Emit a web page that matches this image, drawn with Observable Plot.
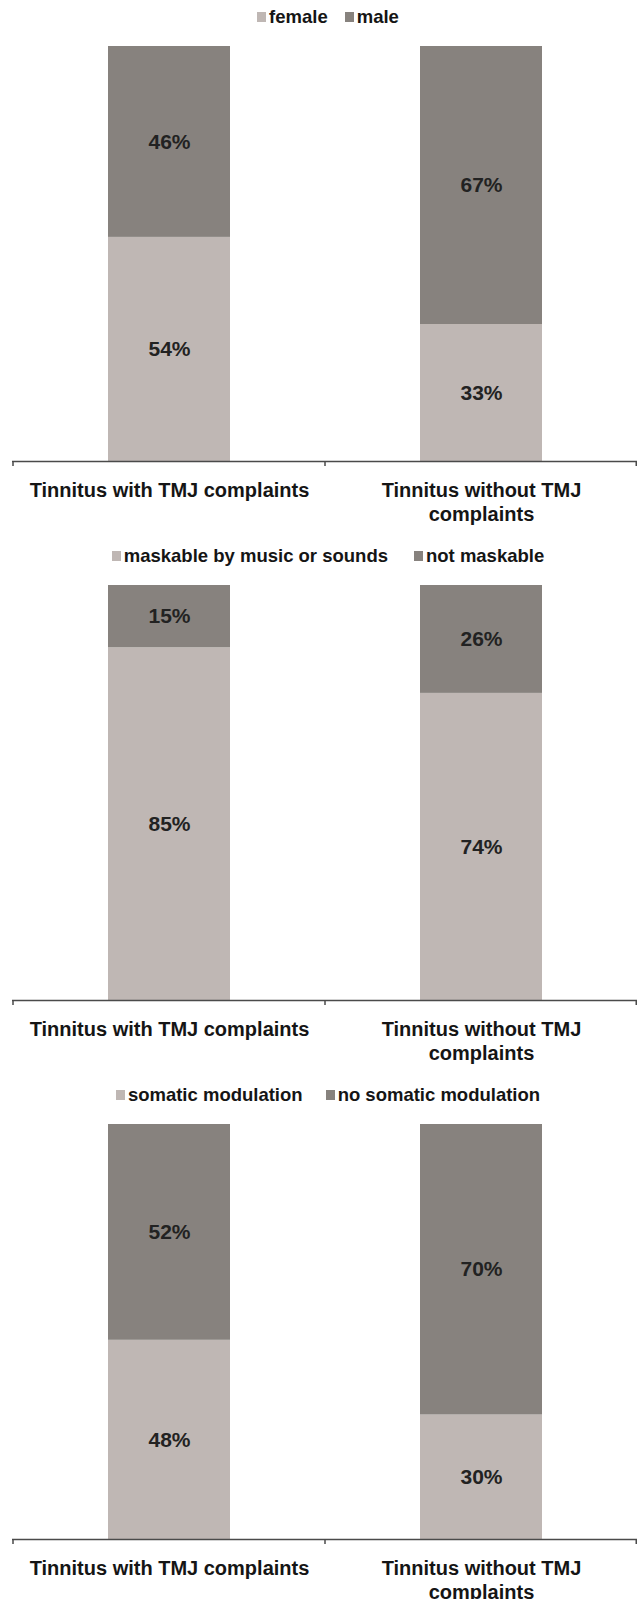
<!DOCTYPE html>
<html>
<head>
<meta charset="utf-8">
<script src="https://cdn.jsdelivr.net/npm/d3@7"></script>
<script src="https://cdn.jsdelivr.net/npm/@observablehq/plot@0.6"></script>
<style>
  html, body { margin: 0; padding: 0; background: #fff; }
  body { width: 637px; font-family: "Liberation Sans", Arial, sans-serif; }
  .panel { width: 637px; height: 539px; }
  .legend { height: 33px; display: flex; justify-content: center; align-items: center; padding-left: 19px; box-sizing: border-box; font-size: 18.5px; font-weight: bold; color: #151515; }
  .legend .item { display: flex; align-items: center; }
  .legend .sw { width: 9px; height: 10px; margin-right: 3px; display: inline-block; }
  svg { display: block; }
</style>
</head>
<body>
<div id="root"></div>
<script>
const groups = ["Tinnitus with TMJ complaints", "Tinnitus without TMJ complaints"];
const groupLabels = ["Tinnitus with TMJ complaints", "Tinnitus without TMJ\ncomplaints"];
const colors = ["#bfb7b4", "#87827e"];

const sexSeries = ["female", "male"];
const sexValues = [[54, 46], [33, 67]];

const maskSeries = ["maskable by music or sounds", "not maskable"];
const maskValues = [[85, 15], [74, 26]];

const somaSeries = ["somatic modulation", "no somatic modulation"];
const somaValues = [[48, 52], [30, 70]];

const panels = [
  {series: sexSeries, values: sexValues, gap: 17},
  {series: maskSeries, values: maskValues, gap: 26},
  {series: somaSeries, values: somaValues, gap: 23}
];

function bandTicks(cats) {
  return (index, scales) => {
    const x = scales.x;
    let bw = 0;
    if (scales.scales && scales.scales.x && scales.scales.x.bandwidth != null) bw = scales.scales.x.bandwidth;
    else if (typeof x.bandwidth === "function") bw = x.bandwidth();
    const edges = [x(cats[0]), ...cats.map(c => x(c) + bw)];
    const y0 = scales.y(0);
    const g = d3.create("svg:g").attr("stroke", "#4a4a4a").attr("stroke-width", 1.5);
    for (const e of edges) {
      const xe = Math.min(Math.max(e, 12.75), 636.25);
      g.append("line").attr("x1", xe).attr("x2", xe).attr("y1", y0).attr("y2", y0 + 5);
    }
    return g.node();
  };
}

const labelOf = new Map(groups.map((g, i) => [g, groupLabels[i]]));

const root = document.getElementById("root");
for (const p of panels) {
  const data = [];
  groups.forEach((g, i) => p.series.forEach((s, j) => data.push({group: g, series: s, value: p.values[i][j]})));

  const panel = document.createElement("div");
  panel.className = "panel";
  const legend = document.createElement("div");
  legend.className = "legend";
  legend.style.gap = p.gap + "px";
  p.series.forEach((s, j) => {
    const it = document.createElement("span");
    it.className = "item";
    const sw = document.createElement("span");
    sw.className = "sw";
    sw.style.background = colors[j];
    it.appendChild(sw);
    it.appendChild(document.createTextNode(s));
    legend.appendChild(it);
  });
  panel.appendChild(legend);

  const chart = Plot.plot({
    width: 637,
    height: 506,
    marginTop: 13,
    marginBottom: 78,
    marginLeft: 12,
    marginRight: 0,
    style: {fontFamily: "'Liberation Sans', Arial, sans-serif", background: "#fff"},
    x: {domain: groups, padding: 0, label: null},
    y: {domain: [0, 100], axis: null},
    color: {domain: p.series, range: colors},
    marks: [
      Plot.barY(data, Plot.stackY({x: "group", y: "value", fill: "series", insetLeft: 95, insetRight: 95})),
      Plot.text(data, Plot.stackY({x: "group", y: "value", text: d => d.value + "%", fontSize: 21, fontWeight: "bold", fill: "#222"})),
      Plot.ruleY([0], {stroke: "#4a4a4a", strokeWidth: 1.5}),
      bandTicks(groups),
      Plot.axisX({tickSize: 0, tickPadding: 18, fontSize: 20, fontWeight: "bold", fill: "#151515", lineWidth: Infinity, lineHeight: 1.2, tickFormat: d => labelOf.get(d), label: null})
    ]
  });
  panel.appendChild(chart);
  root.appendChild(panel);
}
</script>
</body>
</html>
